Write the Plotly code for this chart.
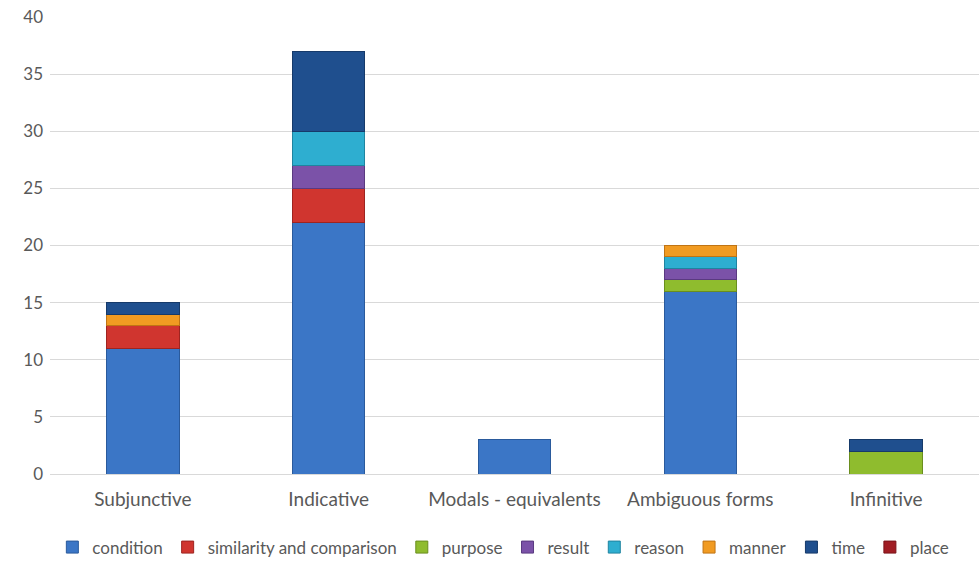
import plotly.graph_objects as go

categories = ["Subjunctive", "Indicative", "Modals - equivalents", "Ambiguous forms", "Infinitive"]

condition = [11, 22, 3, 16, None]
similarity = [2, 3, None, None, None]
purpose = [None, None, None, 1, 2]
result = [None, 2, None, 1, None]
reason = [None, 3, None, 1, None]
manner = [1, None, None, 1, None]
time = [1, 7, None, None, 1]
place = [None, None, None, None, None]

series = [
    ("condition", condition, "#3b76c6", "#2a5a9c"),
    ("similarity and comparison", similarity, "#d0352f", "#9e2420"),
    ("purpose", purpose, "#8fbc2e", "#6a8e1e"),
    ("result", result, "#7b52a8", "#5a3a80"),
    ("reason", reason, "#2eaed0", "#1f84a0"),
    ("manner", manner, "#f19b22", "#c07414"),
    ("time", time, "#1f4f8e", "#163a6a"),
    ("place", place, "#a11d24", "#7a141a"),
]

fig = go.Figure()
for name, vals, color, edge in series:
    fig.add_trace(go.Bar(
        x=categories, y=vals, name=name,
        marker=dict(color=color, line=dict(color=edge, width=1)),
    ))

font_family = "Lato, 'Open Sans', sans-serif"
fig.update_layout(
    barmode="stack",
    bargap=0.61,
    width=979, height=561,
    margin=dict(l=50, r=0, t=17, b=87),
    paper_bgcolor="white",
    plot_bgcolor="white",
    font=dict(family=font_family, size=16, color="#595959"),
    xaxis=dict(showgrid=False, showline=True, linecolor="#d9d9d9", ticks="",
               ticklabelstandoff=8,
               tickfont=dict(size=19, color="#595959")),
    yaxis=dict(range=[0, 40], dtick=5, gridcolor="#d9d9d9", gridwidth=1,
               zeroline=False, ticks="", ticklabelstandoff=6,
               tickfont=dict(size=17, color="#595959")),
    legend=dict(orientation="h", x=0.488, xanchor="center",
                yref="container", y=0.024, yanchor="middle",
                font=dict(size=17, color="#595959"), itemwidth=30,
                traceorder="normal", tracegroupgap=0),
    showlegend=True,
)

fig.write_html("out.html")
